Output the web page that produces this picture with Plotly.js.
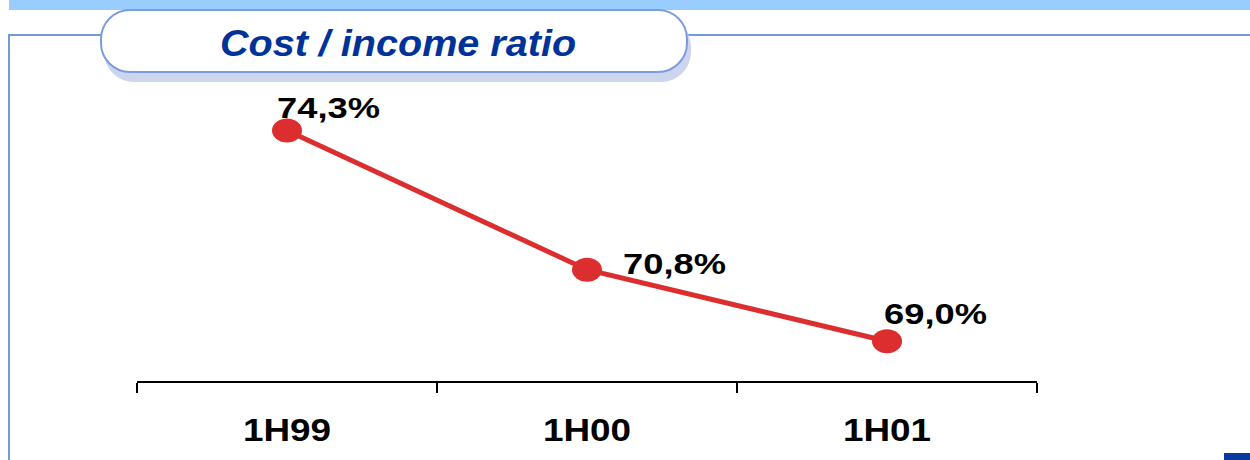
<!DOCTYPE html>
<html>
<head>
<meta charset="utf-8">
<script src="https://cdn.plot.ly/plotly-3.0.1.min.js"></script>
<style>
  html, body { margin: 0; padding: 0; background: #ffffff; }
  #page { position: relative; width: 1250px; height: 460px; overflow: hidden; }
  .deco { position: absolute; box-sizing: border-box; }
  #band { left: 9px; top: 0; width: 1241px; height: 10px; background: #99ccff; }
  #rule { left: 8px; top: 34px; width: 1242px; height: 2px; background: #7498dc; }
  #side { left: 8px; top: 34px; width: 2px; height: 426px; background: #7498dc; }
  #tabShadow { left: 104px; top: 17px; width: 587px; height: 65px; background: #cdd5ee; border-radius: 30px; }
  #tab { left: 100px; top: 9px; width: 588px; height: 64px; background: #ffffff; border: 2px solid #7b9cdd; border-radius: 30px; }
  #corner { left: 1224px; top: 453px; width: 26px; height: 7px; background: #0a3aa0; }
  #chart { position: absolute; left: 0; top: 0; width: 1250px; height: 460px; }
</style>
</head>
<body>
<div id="page">
  <div class="deco" id="band"></div>
  <div class="deco" id="rule"></div>
  <div class="deco" id="side"></div>
  <div class="deco" id="tabShadow"></div>
  <div class="deco" id="tab"></div>
  <div class="deco" id="corner"></div>
  <div id="chart"></div>
</div>
<script>
// Half-year periods and the cost / income ratio (%) for each
const categories = ['1H99', '1H00', '1H01'];
const ratios = [74.3, 70.8, 69.0];

// Value labels in the European decimal style
const valueLabels = ratios.map(v => v.toFixed(1).replace('.', ',') + '%');

// Label placement relative to each point, in pixels [right, up]
const labelOffsets = [[41, 23], [87, 6], [48, 28]];

const RED = '#dc2e2e';
const FONT = 'Liberation Sans, Arial, Helvetica, sans-serif';

const lineTrace = {
  type: 'scatter',
  mode: 'lines',
  x: categories,
  y: ratios,
  line: { color: RED, width: 5 },
  hoverinfo: 'skip'
};

// Slightly oval point markers anchored on the data values
const pointShapes = categories.map((c, i) => ({
  type: 'circle',
  xref: 'x', yref: 'y',
  xsizemode: 'pixel', ysizemode: 'pixel',
  xanchor: i, yanchor: ratios[i],
  x0: -15, x1: 15, y0: -12, y1: 12,
  fillcolor: RED,
  line: { width: 0 },
  layer: 'above'
}));

const annotations = categories.map((c, i) => ({
  x: i, y: ratios[i], xref: 'x', yref: 'y',
  text: valueLabels[i],
  showarrow: false,
  xanchor: 'center', yanchor: 'middle',
  xshift: labelOffsets[i][0], yshift: labelOffsets[i][1],
  font: { family: FONT, size: 30, color: '#000000', weight: 'bold' }
}));

const layout = {
  width: 1250,
  height: 460,
  margin: { l: 137, r: 213, t: 80, b: 79, pad: 0 },
  paper_bgcolor: 'rgba(0,0,0,0)',
  plot_bgcolor: 'rgba(0,0,0,0)',
  showlegend: false,
  title: {
    text: 'Cost / income ratio',
    xref: 'container', yref: 'container',
    x: 398 / 1250, xanchor: 'center',
    y: 1 - 43 / 460, yanchor: 'middle',
    font: { family: FONT, size: 37, color: '#003399', weight: 'bold', style: 'italic' }
  },
  xaxis: {
    type: 'category',
    range: [-0.5, 2.5],
    showline: true, linecolor: '#000000', linewidth: 2,
    ticks: 'outside', tickson: 'boundaries',
    ticklen: 10, tickwidth: 2, tickcolor: '#000000',
    ticklabelstandoff: 21,
    showgrid: false, zeroline: false, fixedrange: true,
    tickfont: { family: FONT, size: 31, color: '#000000', weight: 'bold' }
  },
  yaxis: {
    visible: false,
    range: [68, 75.57],
    fixedrange: true
  },
  shapes: pointShapes,
  annotations: annotations
};

// Widen bold text horizontally around its own centre
function widen(selector, factor) {
  document.querySelectorAll('#chart ' + selector).forEach(t => {
    const b = t.getBBox();
    const cx = b.x + b.width / 2;
    const prev = t.getAttribute('transform') || '';
    t.setAttribute('transform', prev + ' translate(' + cx + ',0) scale(' + factor + ',1) translate(' + (-cx) + ',0)');
  });
}

Plotly.newPlot('chart', [lineTrace], layout, { staticPlot: true, displayModeBar: false })
  .then(() => {
    widen('.xtick text', 1.19);
    widen('.annotation-text', 1.21);
    widen('.gtitle', 1.07);
  });
</script>
</body>
</html>
